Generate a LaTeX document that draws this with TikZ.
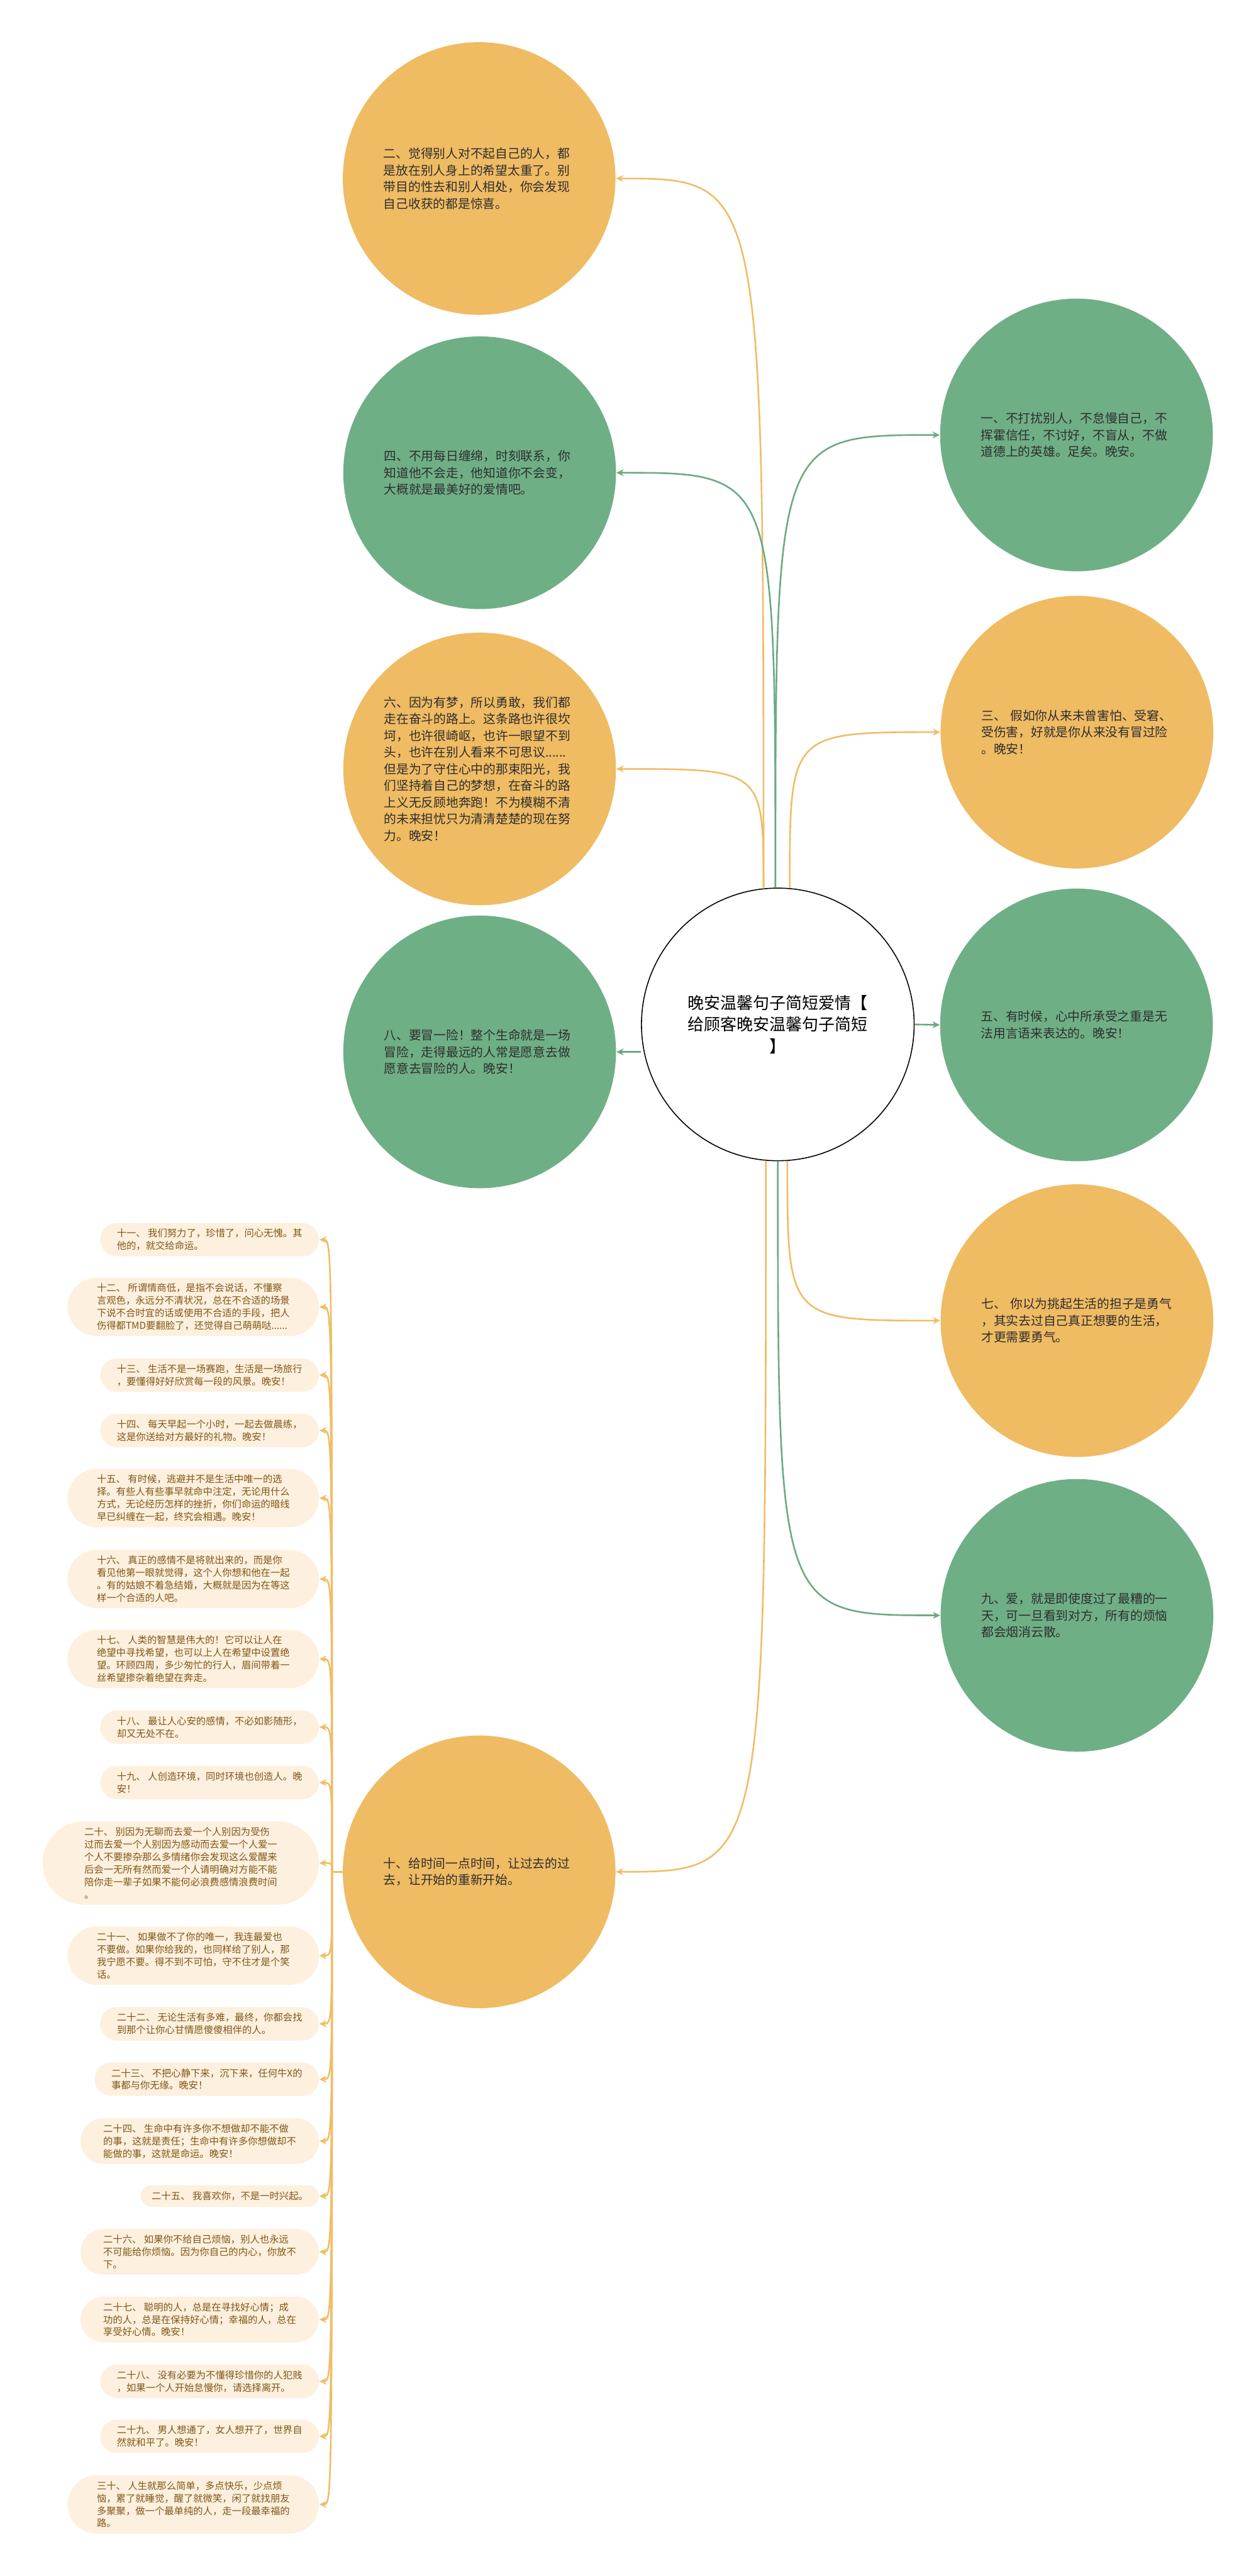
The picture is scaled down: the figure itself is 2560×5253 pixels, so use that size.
\documentclass[tikz,border=0pt]{standalone}
\usepackage{fontspec}
\setmainfont{Noto Sans CJK SC}
\usetikzlibrary{arrows.meta}
\definecolor{corange}{HTML}{EFBB63}
\definecolor{cgreen}{HTML}{6FAF86}
\definecolor{lorange}{HTML}{F0BD66}
\definecolor{lgreen}{HTML}{6DAA81}
\definecolor{pillfill}{HTML}{FDF0DE}
\definecolor{pilltext}{HTML}{805618}
\definecolor{circtext}{HTML}{2E2E2E}
\tikzset{
  bubble/.style={circle, minimum size=166.8pt, inner sep=0pt, text width=117pt, align=left, text=circtext, font=\fontsize{7.6}{10.2}\selectfont},
  obubble/.style={bubble, fill=corange},
  gbubble/.style={bubble, fill=cgreen},
  rootnode/.style={circle, draw=black, line width=0.6pt, fill=white, minimum size=166.8pt, inner sep=0pt, align=center, text=black, font=\fontsize{10}{13.2}\selectfont},
  pill/.style={rectangle, fill=pillfill, text=pilltext, align=left, inner ysep=0pt, anchor=east, font=\fontsize{5.9}{7.65}\selectfont},
  pillA/.style={pill, minimum height=13.2pt, inner xsep=6.6pt, rounded corners=6.59pt},
  pillB/.style={pill, minimum height=20.4pt, inner xsep=10.2pt, rounded corners=10.19pt},
  pillC/.style={pill, minimum height=27.9pt, inner xsep=13.95pt, rounded corners=13.94pt},
  pillD/.style={pill, minimum height=35.7pt, inner xsep=17.85pt, rounded corners=17.84pt},
  pillF/.style={pill, minimum height=51pt, inner xsep=25.5pt, rounded corners=25.49pt},
  olink/.style={draw=lorange, line width=1pt, -{Stealth[length=4.5pt,width=4.2pt]}},
  glink/.style={draw=lgreen, line width=1pt, -{Stealth[length=4.5pt,width=4.2pt]}},
}
\begin{document}
\begin{tikzpicture}[x=0.3pt, y=-0.3pt]
\useasboundingbox (0,0) rectangle (2560,5253);
\fill[white] (0,0) rectangle (2560,5253);

% root
\node[rootnode] (root) at (1586,2089) {晚安温馨句子简短爱情【\\给顾客晚安温馨句子简短\\】};

% left bubbles
\node[obubble] (c2) at (977,364) {二、觉得别人对不起自己的人，都\\是放在别人身上的希望太重了。别\\带目的性去和别人相处，你会发现\\自己收获的都是惊喜。};
\node[gbubble] (c4) at (978,964) {四、不用每日缠绵，时刻联系，你\\知道他不会走，他知道你不会变，\\大概就是最美好的爱情吧。};
\node[obubble] (c6) at (978,1568) {六、因为有梦，所以勇敢，我们都\\走在奋斗的路上。这条路也许很坎\\坷，也许很崎岖，也许一眼望不到\\头，也许在别人看来不可思议......\\但是为了守住心中的那束阳光，我\\们坚持着自己的梦想，在奋斗的路\\上义无反顾地奔跑！不为模糊不清\\的未来担忧只为清清楚楚的现在努\\力。晚安！};
\node[gbubble] (c8) at (978,2145) {八、要冒一险！整个生命就是一场\\冒险，走得最远的人常是愿意去做\\愿意去冒险的人。晚安！};
\node[obubble] (c10) at (977,3817) {十、给时间一点时间，让过去的过\\去，让开始的重新开始。};

% right bubbles
\node[gbubble] (c1) at (2195,887) {一、不打扰别人，不怠慢自己，不\\挥霍信任，不讨好，不盲从，不做\\道德上的英雄。足矣。晚安。};
\node[obubble] (c3) at (2196,1493) {三、 假如你从来未曾害怕、受窘、\\受伤害，好就是你从来没有冒过险\\。晚安！};
\node[gbubble] (c5) at (2195,2090) {五、有时候，心中所承受之重是无\\法用言语来表达的。晚安！};
\node[obubble] (c7) at (2196,2693) {七、 你以为挑起生活的担子是勇气\\，其实去过自己真正想要的生活，\\才更需要勇气。};
\node[gbubble] (c9) at (2196,3294) {九、爱，就是即使度过了最糟的一\\天，可一旦看到对方，所有的烦恼\\都会烟消云散。};

% list items
\node[pillB] (i11) at (651,2528) {十一、 我们努力了，珍惜了，问心无愧。其\\他的，就交给命运。};
\node[pillD] (i12) at (651,2665) {十二、 所谓情商低，是指不会说话，不懂察\\言观色，永远分不清状况，总在不合适的场景\\下说不合时宜的话或使用不合适的手段，把人\\伤得都TMD要翻脸了，还觉得自己萌萌哒......};
\node[pillB] (i13) at (651,2804) {十三、 生活不是一场赛跑，生活是一场旅行\\，要懂得好好欣赏每一段的风景。晚安！};
\node[pillB] (i14) at (651,2917) {十四、 每天早起一个小时，一起去做晨练，\\这是你送给对方最好的礼物。晚安！};
\node[pillD] (i15) at (651,3055) {十五、 有时候，逃避并不是生活中唯一的选\\择。有些人有些事早就命中注定，无论用什么\\方式，无论经历怎样的挫折，你们命运的暗线\\早已纠缠在一起，终究会相遇。晚安！};
\node[pillD] (i16) at (651,3220) {十六、 真正的感情不是将就出来的，而是你\\看见他第一眼就觉得，这个人你想和他在一起\\。有的姑娘不着急结婚，大概就是因为在等这\\样一个合适的人吧。};
\node[pillD] (i17) at (651,3383) {十七、 人类的智慧是伟大的！它可以让人在\\绝望中寻找希望，也可以上人在希望中设置绝\\望。环顾四周，多少匆忙的行人，眉间带着一\\丝希望掺杂着绝望在奔走。};
\node[pillB] (i18) at (651,3522) {十八、 最让人心安的感情，不必如影随形，\\却又无处不在。};
\node[pillB] (i19) at (651,3635) {十九、 人创造环境，同时环境也创造人。晚\\安！};
\node[pillF] (i20) at (651,3799) {二十、 别因为无聊而去爱一个人别因为受伤\\过而去爱一个人别因为感动而去爱一个人爱一\\个人不要掺杂那么多情绪你会发现这么爱醒来\\后会一无所有然而爱一个人请明确对方能不能\\陪你走一辈子如果不能何必浪费感情浪费时间\\。};
\node[pillD] (i21) at (651,3988) {二十一、 如果做不了你的唯一，我连最爱也\\不要做。如果你给我的，也同样给了别人，那\\我宁愿不要。得不到不可怕，守不住才是个笑\\话。};
\node[pillB] (i22) at (651,4127) {二十二、 无论生活有多难，最终，你都会找\\到那个让你心甘情愿傻傻相伴的人。};
\node[pillB] (i23) at (651,4240) {二十三、 不把心静下来，沉下来，任何牛X的\\事都与你无缘。晚安！};
\node[pillC] (i24) at (651,4366) {二十四、 生命中有许多你不想做却不能不做\\的事，这就是责任；生命中有许多你想做却不\\能做的事，这就是命运。晚安！};
\node[pillA] (i25) at (651,4478) {二十五、 我喜欢你，不是一时兴起。};
\node[pillC] (i26) at (651,4592) {二十六、 如果你不给自己烦恼，别人也永远\\不可能给你烦恼。因为你自己的内心，你放不\\下。};
\node[pillC] (i27) at (651,4730) {二十七、 聪明的人，总是在寻找好心情；成\\功的人，总是在保持好心情；幸福的人，总在\\享受好心情。晚安！};
\node[pillB] (i28) at (651,4856) {二十八、 没有必要为不懂得珍惜你的人犯贱\\，如果一个人开始怠慢你，请选择离开。};
\node[pillB] (i29) at (651,4968) {二十九、 男人想通了，女人想开了，世界自\\然就和平了。晚安！};
\node[pillD] (i30) at (651,5107) {三十、 人生就那么简单，多点快乐，少点烦\\恼，累了就睡觉，醒了就微笑，闲了就找朋友\\多聚聚，做一个最单纯的人，走一段最幸福的\\路。};

% connectors from root (top)
\draw[olink] (root.96) .. controls (root.96 |- c2.east) .. (c2.east);
\draw[glink] (root.91) .. controls (root.91 |- c4.east) .. (c4.east);
\draw[olink] (root.96) .. controls (root.96 |- c6.east) .. (c6.east);
\draw[glink] (root.91) .. controls (root.91 |- c1.west) .. (c1.west);
\draw[olink] (root.85) .. controls (root.85 |- c3.west) .. (c3.west);
% side
\draw[glink] (root.east) -- (c5.west);
\draw[glink] (root.west |- c8.east) -- (c8.east);
% bottom
\draw[olink] (root.274) .. controls (root.274 |- c7.west) .. (c7.west);
\draw[glink] (root.270) .. controls (root.270 |- c9.west) .. (c9.west);
\draw[olink] (root.265) .. controls (root.265 |- c10.east) .. (c10.east);

% list connectors
\coordinate (hub) at (677,3817);
\foreach \i in {11,...,30}{
  \draw[olink] (c10.west) -- (hub) .. controls (hub |- i\i.east) .. (i\i.east);
}
\end{tikzpicture}
\end{document}
